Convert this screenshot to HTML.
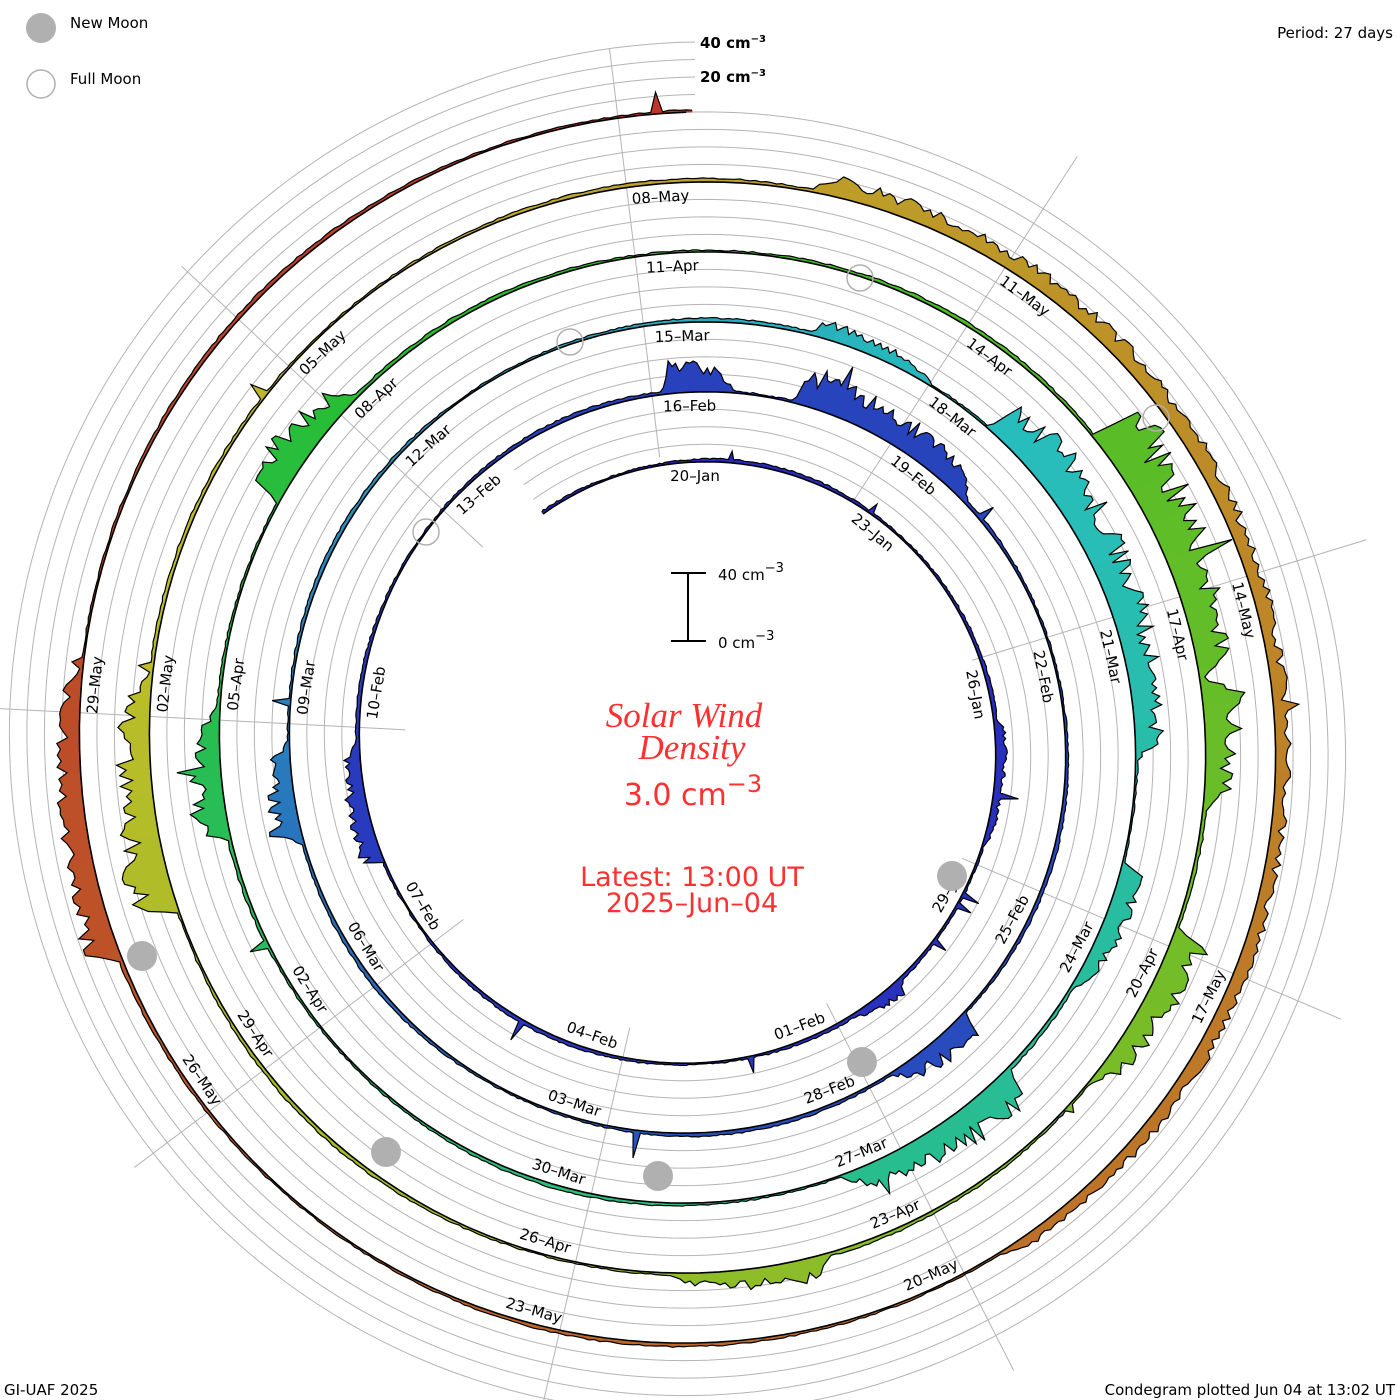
<!DOCTYPE html>
<html><head><meta charset="utf-8"><style>
html,body{margin:0;padding:0;background:#fff;}
svg{display:block;}
.l{font-family:"DejaVu Sans","Liberation Sans",sans-serif;font-size:15px;fill:#000;text-anchor:middle;dominant-baseline:central;}
.t{font-family:"DejaVu Sans","Liberation Sans",sans-serif;font-size:15px;fill:#000;}
</style></head><body>
<svg id="s" width="1400" height="1400" viewBox="0 0 1400 1400" xmlns="http://www.w3.org/2000/svg">
<g id="grid" fill="none" stroke="#b4b4b4" stroke-width="1"></g>
<g id="data"></g>
<g id="labels">
<text class="l" transform="rotate(0 695 745) translate(695 476) rotate(0)">20–Jan</text>
<text class="l" transform="rotate(39.9 695 745) translate(695 468) rotate(0)">23–Jan</text>
<text class="l" transform="rotate(79.8 695 745) translate(695 460) rotate(0)">26–Jan</text>
<text class="l" transform="rotate(119.7 695 745) translate(695 453) rotate(180)">29–Jan</text>
<text class="l" transform="rotate(159.6 695 745) translate(695 445) rotate(180)">01–Feb</text>
<text class="l" transform="rotate(199.5 695 745) translate(695 437) rotate(180)">04–Feb</text>
<text class="l" transform="rotate(239.4 695 745) translate(695 429) rotate(180)">07–Feb</text>
<text class="l" transform="rotate(279.3 695 745) translate(695 422) rotate(0)">10–Feb</text>
<text class="l" transform="rotate(319.2 695 745) translate(695 414) rotate(0)">13–Feb</text>
<text class="l" transform="rotate(359.1 695 745) translate(695 406) rotate(0)">16–Feb</text>
<text class="l" transform="rotate(39 695 745) translate(695 398) rotate(0)">19–Feb</text>
<text class="l" transform="rotate(78.9 695 745) translate(695 390) rotate(0)">22–Feb</text>
<text class="l" transform="rotate(118.8 695 745) translate(695 383) rotate(180)">25–Feb</text>
<text class="l" transform="rotate(158.7 695 745) translate(695 375) rotate(180)">28–Feb</text>
<text class="l" transform="rotate(198.6 695 745) translate(695 367) rotate(180)">03–Mar</text>
<text class="l" transform="rotate(238.5 695 745) translate(695 359) rotate(180)">06–Mar</text>
<text class="l" transform="rotate(278.4 695 745) translate(695 352) rotate(0)">09–Mar</text>
<text class="l" transform="rotate(318.3 695 745) translate(695 344) rotate(0)">12–Mar</text>
<text class="l" transform="rotate(358.2 695 745) translate(695 336) rotate(0)">15–Mar</text>
<text class="l" transform="rotate(38.1 695 745) translate(695 328) rotate(0)">18–Mar</text>
<text class="l" transform="rotate(78 695 745) translate(695 320) rotate(0)">21–Mar</text>
<text class="l" transform="rotate(117.9 695 745) translate(695 313) rotate(180)">24–Mar</text>
<text class="l" transform="rotate(157.8 695 745) translate(695 305) rotate(180)">27–Mar</text>
<text class="l" transform="rotate(197.7 695 745) translate(695 297) rotate(180)">30–Mar</text>
<text class="l" transform="rotate(237.6 695 745) translate(695 289) rotate(180)">02–Apr</text>
<text class="l" transform="rotate(277.5 695 745) translate(695 282) rotate(0)">05–Apr</text>
<text class="l" transform="rotate(317.4 695 745) translate(695 274) rotate(0)">08–Apr</text>
<text class="l" transform="rotate(357.3 695 745) translate(695 266) rotate(0)">11–Apr</text>
<text class="l" transform="rotate(37.2 695 745) translate(695 258) rotate(0)">14–Apr</text>
<text class="l" transform="rotate(77.1 695 745) translate(695 250) rotate(0)">17–Apr</text>
<text class="l" transform="rotate(117 695 745) translate(695 243) rotate(180)">20–Apr</text>
<text class="l" transform="rotate(156.9 695 745) translate(695 235) rotate(180)">23–Apr</text>
<text class="l" transform="rotate(196.8 695 745) translate(695 227) rotate(180)">26–Apr</text>
<text class="l" transform="rotate(236.7 695 745) translate(695 219) rotate(180)">29–Apr</text>
<text class="l" transform="rotate(276.6 695 745) translate(695 212) rotate(0)">02–May</text>
<text class="l" transform="rotate(316.5 695 745) translate(695 204) rotate(0)">05–May</text>
<text class="l" transform="rotate(356.4 695 745) translate(695 196) rotate(0)">08–May</text>
<text class="l" transform="rotate(36.3 695 745) translate(695 188) rotate(0)">11–May</text>
<text class="l" transform="rotate(76.2 695 745) translate(695 180) rotate(0)">14–May</text>
<text class="l" transform="rotate(116.1 695 745) translate(695 173) rotate(180)">17–May</text>
<text class="l" transform="rotate(156 695 745) translate(695 165) rotate(180)">20–May</text>
<text class="l" transform="rotate(195.9 695 745) translate(695 157) rotate(180)">23–May</text>
<text class="l" transform="rotate(235.8 695 745) translate(695 149) rotate(180)">26–May</text>
<text class="l" transform="rotate(275.7 695 745) translate(695 142) rotate(0)">29–May</text>
</g>
<g fill="#b0b0b0">
<circle cx="142" cy="956" r="15"/><circle cx="386" cy="1152" r="15"/><circle cx="658" cy="1176" r="15"/>
<circle cx="862" cy="1062" r="15"/><circle cx="952" cy="876" r="15"/>
<circle cx="41" cy="28" r="15"/>
</g>
<g fill="none" stroke="#b0b0b0" stroke-width="1.5">
<circle cx="860" cy="278" r="13"/><circle cx="570" cy="342" r="13"/><circle cx="426" cy="532" r="13"/>
<circle cx="1156" cy="418" r="13"/><circle cx="41" cy="84" r="14"/>
</g>
<text class="t" x="70" y="28" font-size="15">New Moon</text>
<text class="t" x="70" y="84" font-size="15">Full Moon</text>
<text class="t" x="1393" y="38" text-anchor="end">Period: 27 days</text>
<text class="t" x="700" y="48" font-size="13" font-weight="bold">40 cm<tspan dy="-6" font-size="10">−3</tspan></text>
<text class="t" x="700" y="82" font-size="13" font-weight="bold">20 cm<tspan dy="-6" font-size="10">−3</tspan></text>
<text class="t" x="4" y="1395">GI-UAF 2025</text>
<text class="t" x="1395" y="1395" text-anchor="end">Condegram plotted Jun 04 at 13:02 UT</text>
<g stroke="#000" stroke-width="2"><line x1="688" y1="573" x2="688" y2="641"/><line x1="671" y1="573" x2="706" y2="573"/><line x1="671" y1="641" x2="706" y2="641"/></g>
<text class="t" x="718" y="580" font-size="17">40 cm<tspan dy="-8" font-size="13">−3</tspan></text>
<text class="t" x="718" y="648" font-size="17">0 cm<tspan dy="-8" font-size="13">−3</tspan></text>
<g fill="#ff3030" text-anchor="middle">
<text x="684" y="727" font-family="Liberation Serif, serif" font-style="italic" font-size="35">Solar Wind</text>
<text x="692" y="759" font-family="Liberation Serif, serif" font-style="italic" font-size="35">Density</text>
<text x="693" y="805" font-family="DejaVu Sans, Liberation Sans, sans-serif" font-size="30">3.0 cm<tspan dy="-13" font-size="24">−3</tspan></text>
<text x="692" y="886" font-family="DejaVu Sans, Liberation Sans, sans-serif" font-size="27">Latest: 13:00 UT</text>
<text x="692" y="912" font-family="DejaVu Sans, Liberation Sans, sans-serif" font-size="27">2025–Jun–04</text>
</g>
</svg>
<script>
(function(){
var cx=695,cy=745,PER=27;
function R(t){return 283+70*t/27;}
function P(t,r){var a=t/PER*2*Math.PI;return [cx+r*Math.sin(a),cy-r*Math.cos(a)];}
var g=document.getElementById('grid'),h='';
var t0=-2.5,t1=135;
for(var j=1;j<=4;j++){var p='';for(var t=t0;t<=t1;t+=0.1){var q=P(t,R(t)+17.5*j);p+=(p?'L':'M')+q[0].toFixed(1)+' '+q[1].toFixed(1);}h+='<path d="'+p+'"/>';}
for(var k=0;k<9;k++){var a=(-7+40*k)*Math.PI/180;h+='<line x1="'+(cx+290*Math.sin(a))+'" y1="'+(cy-290*Math.cos(a))+'" x2="'+(cx+702*Math.sin(a))+'" y2="'+(cy-702*Math.cos(a))+'"/>';}
g.innerHTML=h;
var s=12345;function rnd(){s=(s*16807)%2147483647;return s/2147483647;}
var ev=[[6.5,1.5,4],[10.5,0.5,6],[18.8,1.3,10],[26.7,0.6,17],[28.3,2.1,18],[37.2,0.8,14],[46.3,0.8,14],[55.3,1,8],[57.3,3.4,20],[62,1,12],[64.3,1.6,18],[73.5,0.9,15],[76.6,0.9,20],[85,2,26],[87.3,0.8,18],[89.4,1.2,16],[93.5,1,10],[100,1.6,20],[109,10,8],[126.8,1.8,14]];
var pts=[],dt=0.04;
for(var t=t0;t<=t1;t+=dt){
 var d=1.2+0.8*rnd()+0.6*Math.sin(t*1.3);
 for(var e=0;e<ev.length;e++){var s0=ev[e][0],du=ev[e][1];
  if(t>=s0-0.1&&t<=s0+du+0.2){var f=t<s0?(t-s0+0.1)/0.1:(t>s0+du?1-(t-s0-du)/0.2:1);
   var dec=t>=s0?0.55+0.45*(1-(t-s0)/du):1;if(dec<0.5)dec=0.5;
   d+=ev[e][2]*f*dec*(0.6+0.8*rnd());}}
 if(rnd()<0.008)d+=3+rnd()*12;
 if(d<0.3)d=0.3;
 pts.push([t,d]);
}
function hueOf(t){var k=[[0,240],[40,225],[55,185],[70,150],[85,100],[100,65],[115,35],[135,5]];
 for(var i=0;i<k.length-1;i++){if(t<=k[i+1][0]){var u=(t-k[i][0])/(k[i+1][0]-k[i][0]);if(u<0)u=0;return k[i][1]+u*(k[i+1][1]-k[i][1]);}}return 5;}
var out='',line='';
for(var i=0;i<pts.length-1;i+=8){
 var e2=Math.min(i+9,pts.length-1);
 var hue=hueOf(pts[i][0]);var col='hsl('+hue.toFixed(0)+',65%,45%)';
 var top='',bot='';
 for(var m=i;m<=e2;m++){var q=P(pts[m][0],R(pts[m][0])+pts[m][1]*1.7);top+=(m==i?'M':'L')+q[0].toFixed(1)+' '+q[1].toFixed(1);}
 for(var m=e2;m>=i;m--){var q=P(pts[m][0],R(pts[m][0]));bot+='L'+q[0].toFixed(1)+' '+q[1].toFixed(1);}
 out+='<path d="'+top+bot+'Z" fill="'+col+'" stroke="'+col+'" stroke-width="0.6"/>';
}
for(var m=0;m<pts.length;m++){var q=P(pts[m][0],R(pts[m][0])+pts[m][1]*1.7);line+=(m?'L':'M')+q[0].toFixed(1)+' '+q[1].toFixed(1);}
var base='';for(var m=0;m<pts.length;m+=4){var q=P(pts[m][0],R(pts[m][0]));base+=(m?'L':'M')+q[0].toFixed(1)+' '+q[1].toFixed(1);}
out+='<path d="'+line+'" fill="none" stroke="#000" stroke-width="1.2"/>';
out+='<path d="'+base+'" fill="none" stroke="#000" stroke-width="1.6"/>';
document.getElementById('data').innerHTML=out;
})();
</script>
</body></html>
